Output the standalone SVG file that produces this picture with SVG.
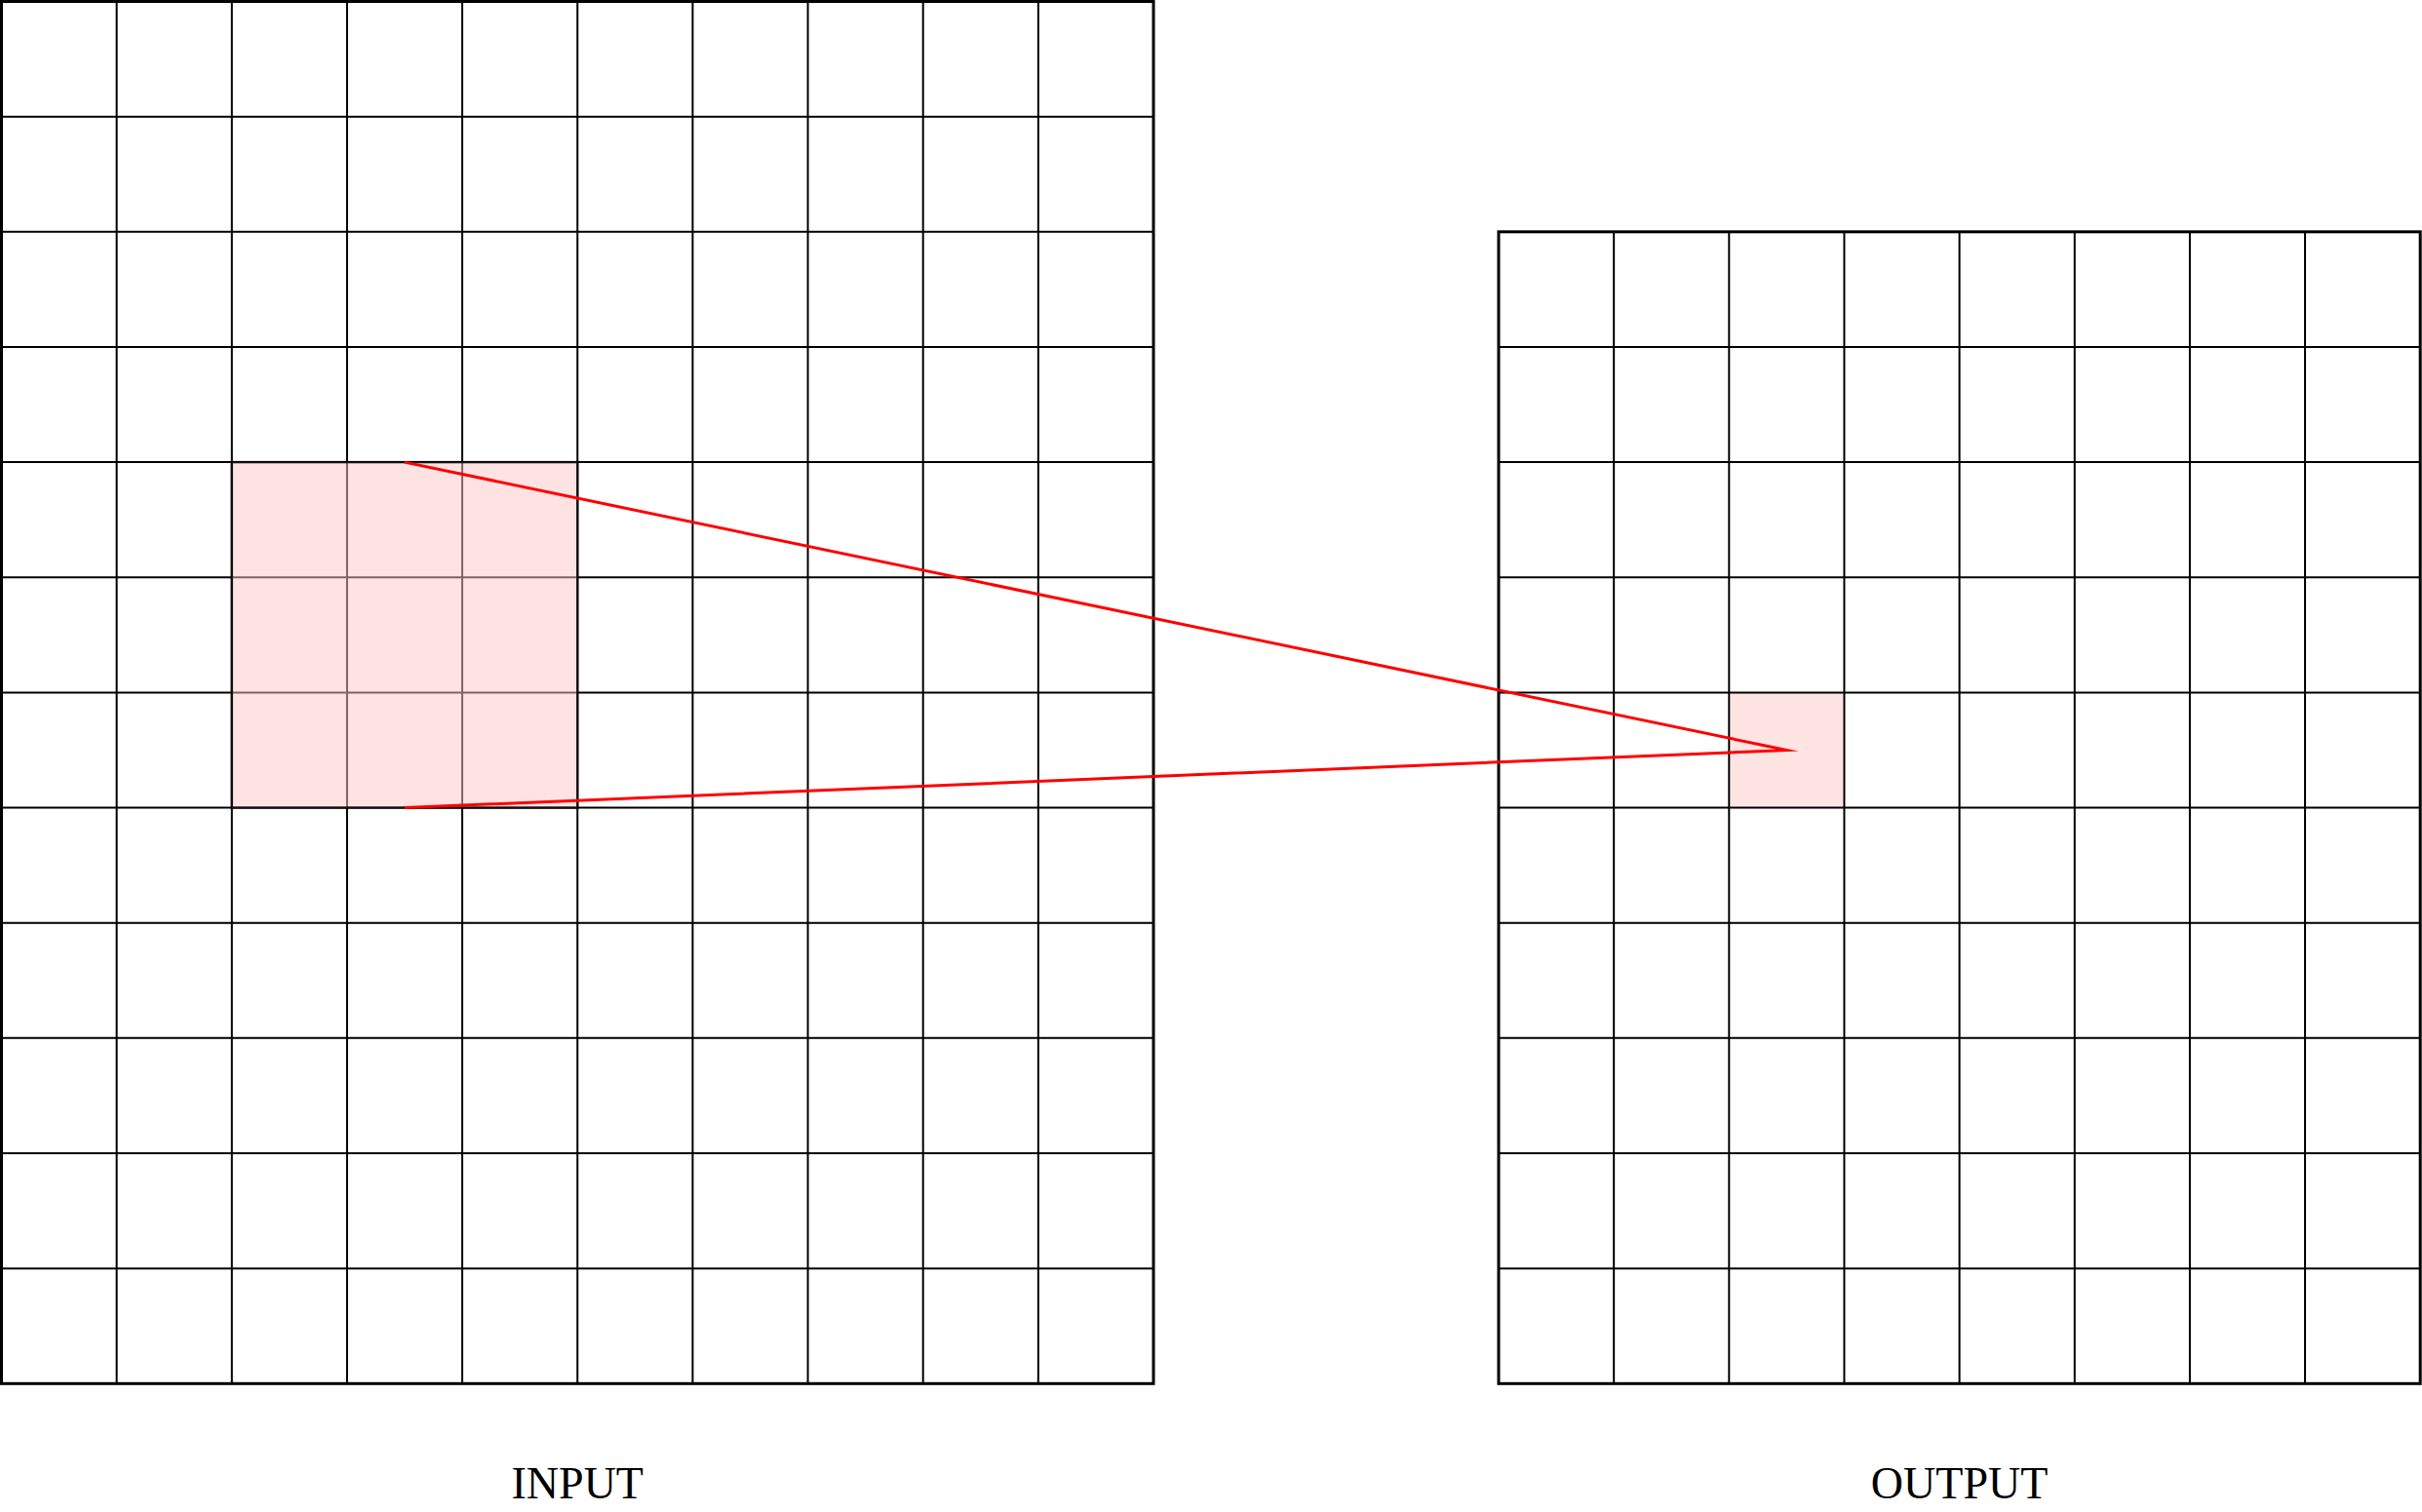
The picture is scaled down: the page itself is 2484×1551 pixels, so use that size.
<svg xmlns="http://www.w3.org/2000/svg" width="2484" height="1551" viewBox="0 0 2484 1551">
<style>
.inner{fill:none;stroke:#000;stroke-width:2}
.outer{fill:none;stroke:#000;stroke-width:3}
.hl{fill:#ffc8c8;fill-opacity:0.5;stroke:#000;stroke-opacity:0.75;stroke-width:2.5}
.hl2{fill:#ffe4e4;stroke:none}
.conn{fill:none;stroke:#ff0000;stroke-width:3;stroke-linejoin:miter;stroke-miterlimit:10}
.lbl{font-family:"Liberation Serif","DejaVu Serif",serif;font-size:46px;text-anchor:middle;fill:#000}
</style>
<rect width="2484" height="1551" fill="#fff"/>
<g id="output-highlight">
<rect class="hl2" x="1773.3" y="710.4" width="118.15" height="118.15"/>
</g>
<g id="input-grid">
<path class="inner" d="M119.65 1.5V1419.3M237.8 1.5V1419.3M355.95 1.5V1419.3M474.1 1.5V1419.3M592.25 1.5V1419.3M710.4 1.5V1419.3M828.55 1.5V1419.3M946.7 1.5V1419.3M1064.85 1.5V1419.3M1.5 119.65H1183M1.5 237.8H1183M1.5 355.95H1183M1.5 474.1H1183M1.5 592.25H1183M1.5 710.4H1183M1.5 828.55H1183M1.5 946.7H1183M1.5 1064.85H1183M1.5 1183H1183M1.5 1301.15H1183"/>
<rect class="outer" x="1.5" y="1.5" width="1181.5" height="1417.8"/>
</g>
<g id="input-highlight">
<rect class="hl" x="237.8" y="474.1" width="354.45" height="354.45"/>
</g>
<g id="output-grid">
<path class="inner" d="M1655.15 237.8V1419.3M1773.3 237.8V1419.3M1891.45 237.8V1419.3M2009.6 237.8V1419.3M2127.75 237.8V1419.3M2245.9 237.8V1419.3M2364.05 237.8V1419.3M1537 355.95H2482.2M1537 474.1H2482.2M1537 592.25H2482.2M1537 710.4H2482.2M1537 828.55H2482.2M1537 946.7H2482.2M1537 1064.85H2482.2M1537 1183H2482.2M1537 1301.15H2482.2"/>
<rect class="outer" x="1537" y="237.8" width="945.2" height="1181.5"/>
</g>
<g id="connectors">
<polyline class="conn" points="415,474.1 1832.4,769.5 415,828.55"/>
</g>
<g id="labels">
<text class="lbl" x="592.25" y="1537">INPUT</text>
<text class="lbl" x="2009.6" y="1537">OUTPUT</text>
</g>
</svg>
